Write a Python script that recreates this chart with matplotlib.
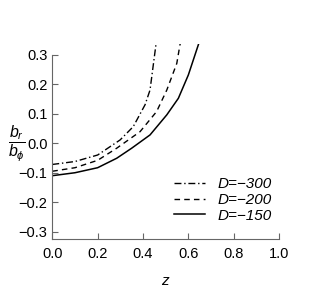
import matplotlib
matplotlib.use("Agg")
import matplotlib.pyplot as plt

# values
z_150 = [0.0, 0.1, 0.2, 0.284, 0.35, 0.431, 0.505, 0.556, 0.60, 0.644, 0.66]
br_150 = [-0.110, -0.100, -0.083, -0.051, -0.017, 0.028, 0.096, 0.152, 0.231, 0.333, 0.37]

z_200 = [0.0, 0.1, 0.2, 0.284, 0.387, 0.46, 0.505, 0.549, 0.563, 0.575]
br_200 = [-0.095, -0.083, -0.058, -0.017, 0.039, 0.107, 0.18, 0.27, 0.333, 0.37]

z_300 = [0.0, 0.1, 0.2, 0.299, 0.357, 0.409, 0.431, 0.457, 0.47]
br_300 = [-0.072, -0.062, -0.040, 0.011, 0.056, 0.13, 0.18, 0.333, 0.39]

labels = ['D=\u2212300', 'D=\u2212200', 'D=\u2212150']
xticks = [0.0, 0.2, 0.4, 0.6, 0.8, 1.0]
yticks = [-0.3, -0.2, -0.1, 0.0, 0.1, 0.2, 0.3]

plt.rcParams['font.family'] = ['Liberation Sans', 'DejaVu Sans']
plt.rcParams['mathtext.fontset'] = 'custom'
plt.rcParams['mathtext.it'] = 'Liberation Sans:italic'
plt.rcParams['mathtext.rm'] = 'Liberation Sans'

fig = plt.figure(figsize=(3.32, 2.91), dpi=100)
ax = fig.add_axes([0.1575, 0.179, 0.683, 0.669])

ax.plot(z_300, br_300, color='black', lw=1.0, ls=(0, (5, 2, 1, 2)), label=labels[0])
ax.plot(z_200, br_200, color='black', lw=1.0, ls=(0, (4, 3)), label=labels[1])
ax.plot(z_150, br_150, color='black', lw=1.1, ls='-', label=labels[2])

ax.set_xlim(0, 1.0)
ax.set_ylim(-0.324, 0.335)
ax.set_xticks(xticks)
ax.set_yticks(yticks)
ax.set_xticklabels([f"{t:.1f}" for t in xticks])
ax.set_yticklabels([f"{t:.1f}".replace('-', '\u2212') for t in yticks])

for s in ['top', 'right']:
    ax.spines[s].set_visible(False)
for s in ['left', 'bottom']:
    ax.spines[s].set_color('#666666')
    ax.spines[s].set_linewidth(0.8)
ax.spines['left'].set_bounds(-0.324, 0.3)
ax.tick_params(direction='in', length=4, width=0.8, color='#666666', labelsize=10.5)
ax.tick_params(axis='x', pad=6)

ax.set_xlabel('$z$', fontsize=11, labelpad=9)
ax.set_ylabel(r'$\dfrac{b_r}{b_\phi}$', fontsize=11.5, rotation=0, va='center', ha='center')
ax.yaxis.set_label_coords(-0.158, 0.49)

leg = ax.legend(loc='center left', bbox_to_anchor=(0.478, 0.20), frameon=False,
                fontsize=11, handlelength=2.0, handletextpad=0.85, labelspacing=0.1)
for t in leg.get_texts():
    t.set_fontstyle('italic')

fig.savefig('out.png', dpi=100)
